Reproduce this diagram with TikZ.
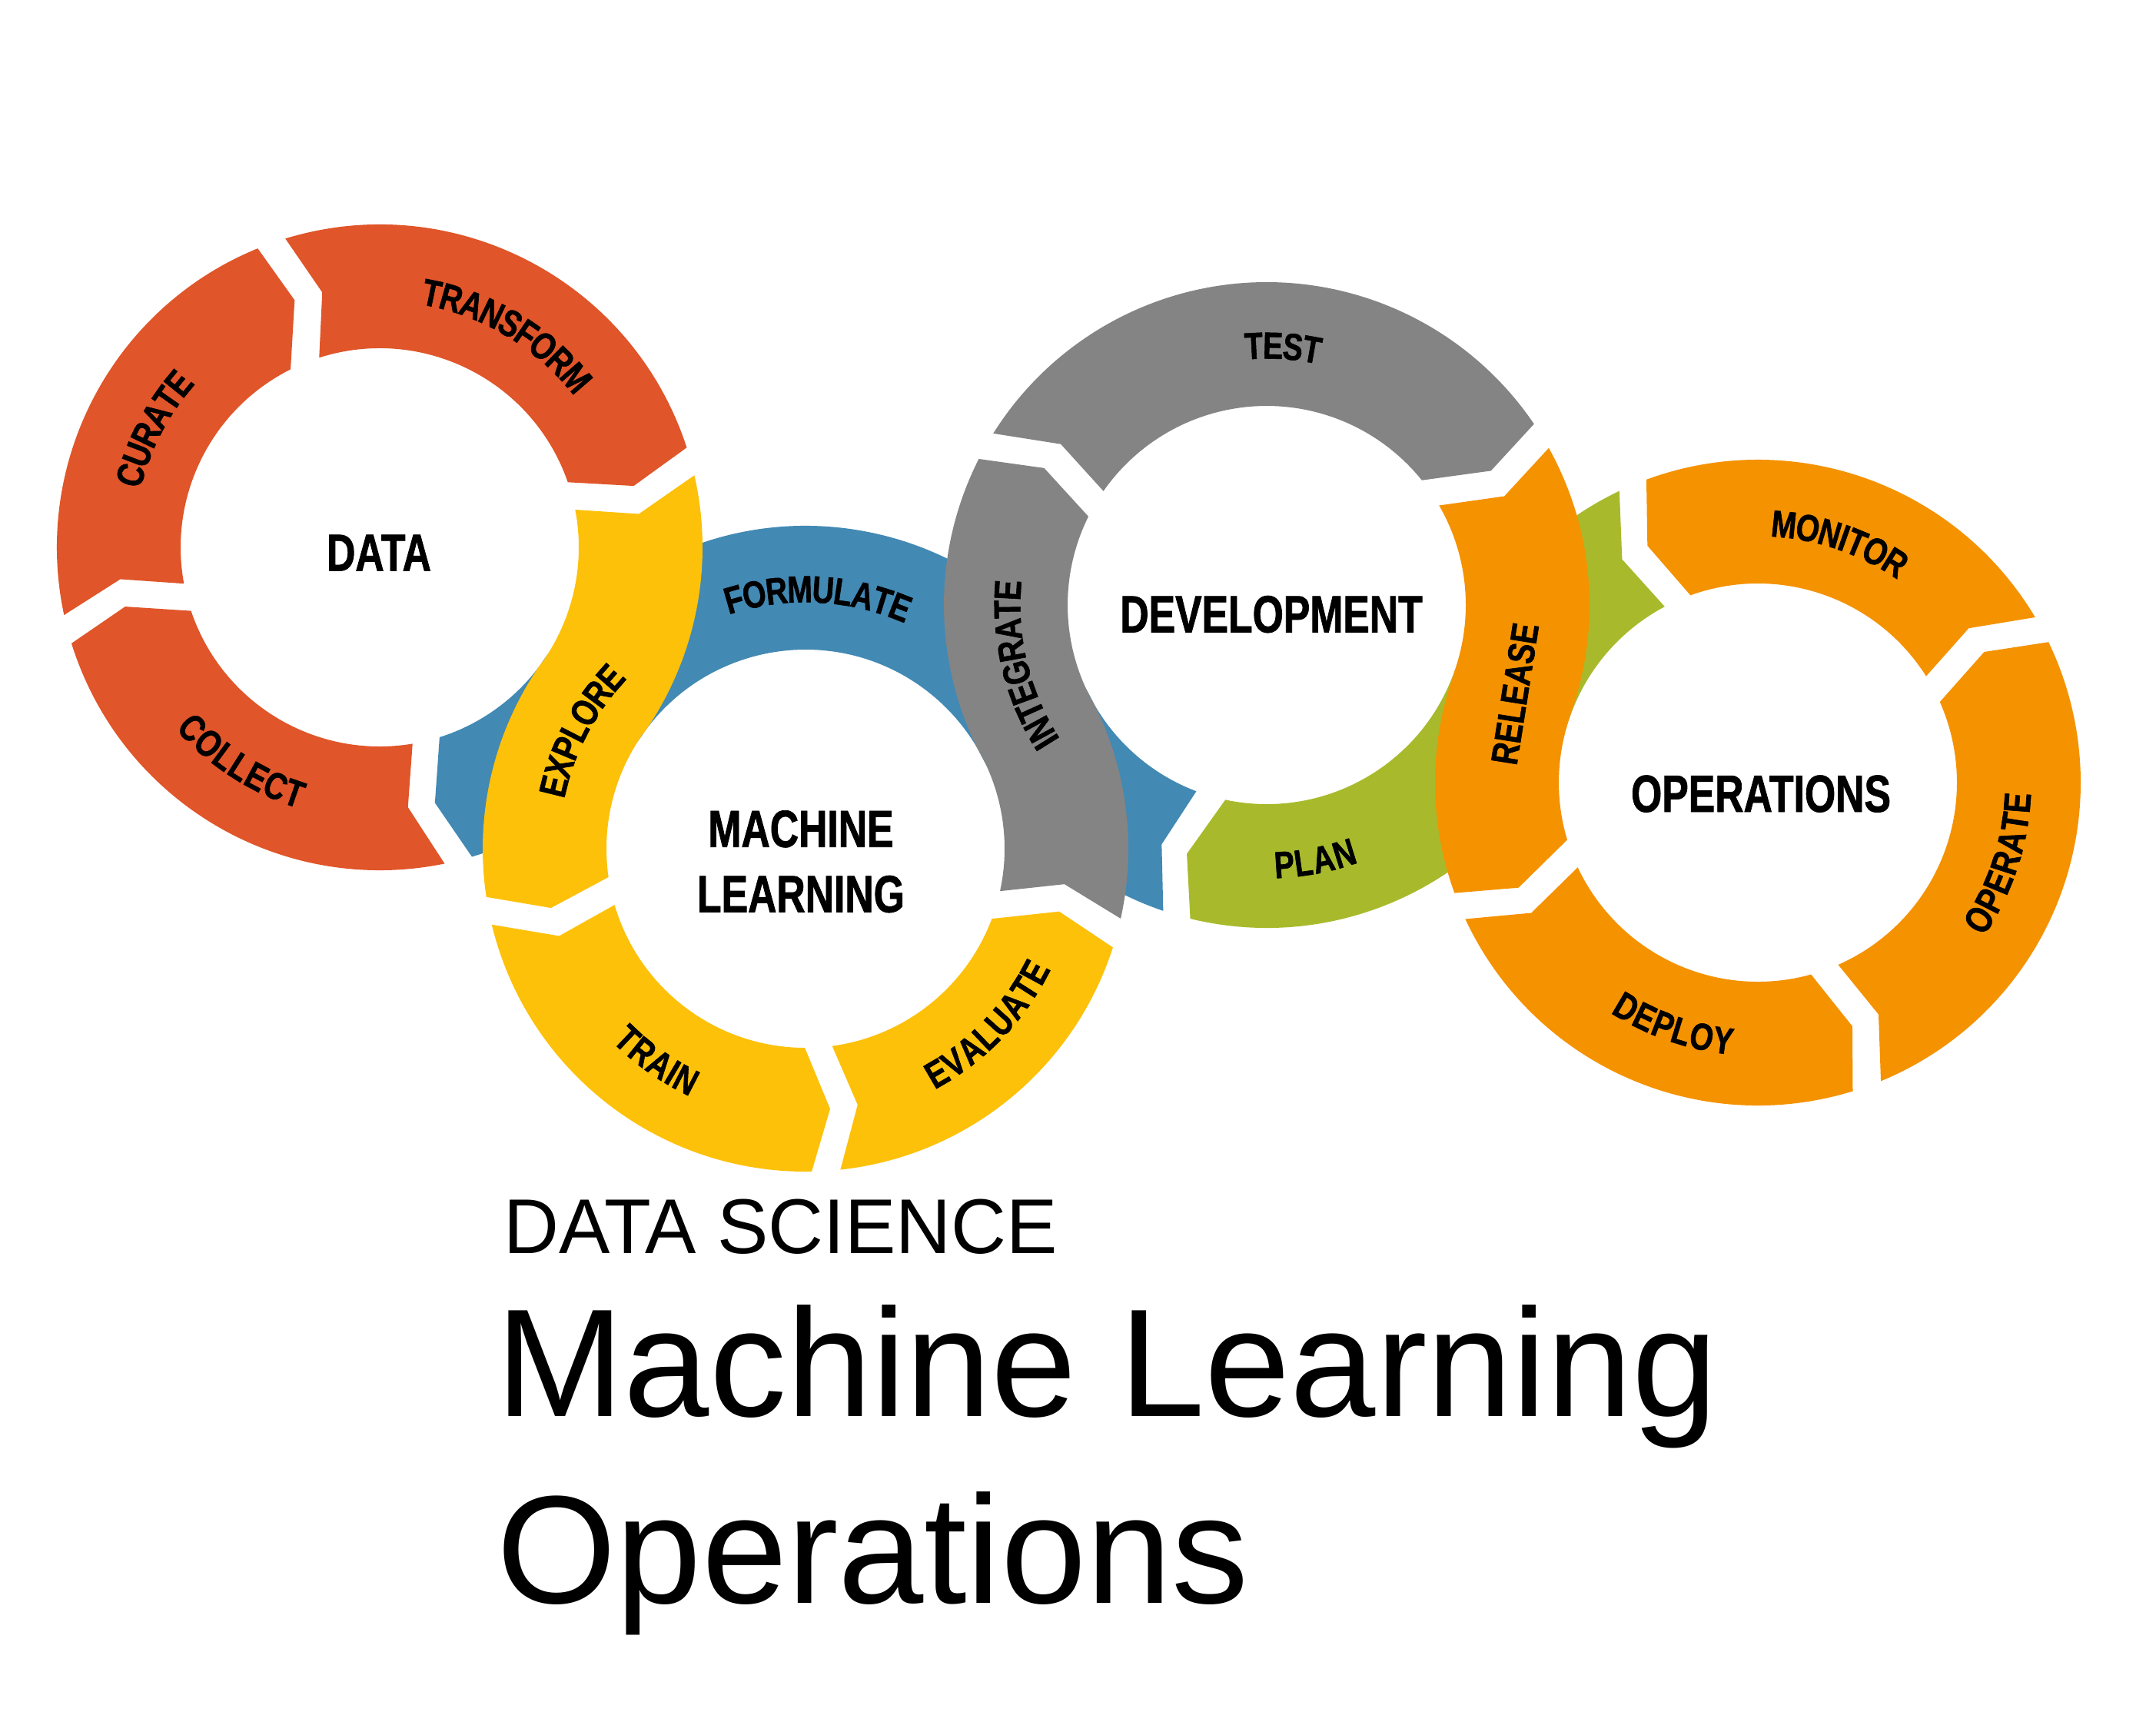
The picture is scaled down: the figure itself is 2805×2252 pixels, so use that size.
\documentclass[tikz,border=0pt]{standalone}
\usepackage{fontspec}
\usepackage{graphicx}
\usetikzlibrary{decorations.text}
\setmainfont{Liberation Sans}
\newfontfamily\labf[FakeStretch=0.8,FakeBold=1.2]{Liberation Sans}
\newfontfamily\cenf[FakeStretch=0.76,FakeBold=1.2]{Liberation Sans}
\newcommand\lblfont{\labf\bfseries\fontsize{49}{55}\selectfont}
\newcommand\cenfont{\cenf\bfseries\fontsize{68}{76}\selectfont}
\definecolor{cRed}{RGB}{224,85,41}
\definecolor{cYel}{RGB}{253,193,10}
\definecolor{cBlue}{RGB}{66,137,180}
\definecolor{cGray}{RGB}{132,132,132}
\definecolor{cGreen}{RGB}{168,186,43}
\definecolor{cOra}{RGB}{245,146,0}
\def\rOut{420}
\def\rMid{340}
\def\rIn{259}
% #1 centre, #2-#4 start (outer, mid, inner), #5-#7 end (outer, mid, inner)
\newcommand\segpath[7]{([shift={(#1)}]#2:\rOut) arc[start angle=#2, end angle=#5, radius=\rOut] -- ([shift={(#1)}]#6:\rMid) -- ([shift={(#1)}]#7:\rIn) arc[start angle=#7, end angle=#4, radius=\rIn] -- ([shift={(#1)}]#3:\rMid) -- cycle}
\newcommand\arclabel[4]{\path[decorate,decoration={text along path,text align=center,raise=-17.5pt,text={|\lblfont|#4}}] ([shift={(#1)}]#2:338) arc[start angle=#2,end angle=#3,radius=338];}
\tikzset{cenlab/.style={font=\cenfont, anchor=base, inner sep=0pt},
  ringlab/.style={font=\lblfont, inner sep=0pt}}
\begin{document}
\begin{tikzpicture}[x=1pt,y=1pt]
\useasboundingbox (0,0) rectangle (2805,-2252);
\fill[white] (0,0) rectangle (2805,-2252);
\coordinate (D) at (494,-712);
\coordinate (M) at (1048,-1104);
\coordinate (V) at (1648,-787);
\coordinate (O) at (2287,-1018);
% under-bands
\fill[cBlue] \segpath{D}{-35.28}{-35.28}{-35.28}{-73.4}{-77.8}{-72.5}
  \segpath{M}{27.85}{27.85}{27.85}{144.72}{144.72}{144.72}
  \segpath{V}{207.85}{207.85}{207.85}{251.3}{246.3}{249.3};
\fill[cGreen] \segpath{V}{340.13}{340.13}{340.13}{256.3}{252.2}{258}
  \segpath{O}{115.4}{121.3}{117.9}{160.13}{160.13}{160.13};
% data ring
\fill[cRed] \segpath{D}{281.6}{276.2}{279.5}{197.3}{193.1}{198.6};
\fill[cRed] \segpath{D}{192.1}{187}{190.5}{112.2}{109}{116.6};
\fill[cRed] \segpath{D}{107}{102.7}{107.7}{18}{13.6}{19.1};
% machine learning ring
\fill[cYel] \segpath{D}{12.9}{7.35}{10.9}{-35.28}{-35.28}{-35.28}
  \segpath{M}{144.72}{144.72}{144.72}{188.6}{193.1}{188.2};
\fill[cYel] \segpath{M}{193.6}{199.5}{196.4}{271.1}{275.4}{269.8};
\fill[cYel] \segpath{M}{276.2}{281.5}{277.7}{342.2}{346.1}{339.4};
% development ring
\fill[cGray] \segpath{M}{347.5}{352.2}{347.7}{387.85}{387.85}{387.85}
  \segpath{V}{207.85}{207.85}{207.85}{153.1}{148.4}{153.6};
\fill[cGray] \segpath{V}{147.9}{142}{145.1}{34.1}{30.9}{38.8};
% operations ring
\fill[cOra] \segpath{V}{29.1}{24.6}{30}{-19.87}{-19.87}{-19.87}
  \segpath{O}{160.13}{160.13}{160.13}{200}{203.7}{196.7};
\fill[cOra] \segpath{O}{205}{209.9}{205.2}{287.1}{291.2}{285.5};
\fill[cOra] \segpath{O}{292.4}{297.5}{293.8}{385.8}{390}{383.9};
\fill[cOra] \segpath{O}{30.8}{36.2}{32.3}{110.2}{115}{109.8};
% ring labels
\arclabel{D}{109.2}{9.2}{TRANSFORM}
\arclabel{D}{202.4}{102.4}{CURATE}
\arclabel{D}{187.2}{287.2}{COLLECT}
\arclabel{M}{202.4}{102.4}{EXPLORE}
\arclabel{M}{137.2}{37.2}{FORMULATE}
\arclabel{M}{184.9}{284.9}{TRAIN}
\arclabel{M}{266}{366}{EVALUATE}
\arclabel{V}{243.7}{143.7}{INTEGRATE}
\arclabel{V}{136.4}{36.4}{TEST}
\arclabel{V}{230.7}{330.7}{PLAN}
\arclabel{O}{291.7}{391.7}{OPERATE}
\arclabel{O}{121.3}{21.3}{MONITOR}
\arclabel{O}{200.9}{300.9}{DEPLOY}
\node[ringlab, rotate=81] (release) at (1971,-902.5) {RELEASE};
% centre labels
\node[cenlab] (dataL) at (493,-742.5) {DATA};
\node[cenlab] (mlA) at (1042,-1101.7) {MACHINE};
\node[cenlab] (mlB) at (1042,-1186.5) {LEARNING};
\node[cenlab] (devL) at (1654,-822.5) {DEVELOPMENT};
\node[cenlab] (opsL) at (2291,-1056) {OPERATIONS};
% title
\node[anchor=base west, inner sep=0pt, font=\fontsize{101}{110}\selectfont] (ds) at (655,-1630.6) {\scalebox{0.985}[1]{DATA SCIENCE}};
\node[anchor=base west, inner sep=0pt, font=\fontsize{200}{220}\selectfont] (mlt) at (645,-1842) {Machine Learning};
\node[anchor=base west, inner sep=0pt, font=\fontsize{200}{220}\selectfont] (opt) at (646,-2085) {Operations};
\end{tikzpicture}
\end{document}
